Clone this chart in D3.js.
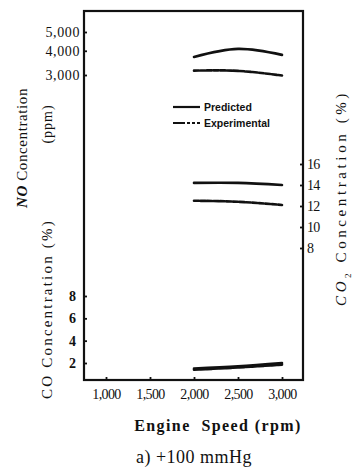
<!DOCTYPE html>
<html>
<head>
<meta charset="utf-8">
<script src="https://cdn.jsdelivr.net/npm/d3@7"></script>
<style>
  html, body { margin: 0; padding: 0; background: #fff; }
  svg { display: block; }
  text { fill: #111; }
</style>
</head>
<body>
<svg id="chart" width="352" height="472"></svg>
<script>
// Engine speed samples (rpm)
const speeds = [2000, 2500, 3000];

// NO concentration (ppm)
const noPredicted = [3720, 4090, 3810];
const noExperimental = [3160, 3150, 2980];

// CO2 concentration (%)
const co2Predicted = [14.2, 14.2, 14.0];
const co2Experimental = [12.5, 12.4, 12.1];

// CO concentration (%)
const coPredicted = [1.5, 1.7, 2.0];
const coExperimental = [1.4, 1.6, 1.85];

// Tick values
const speedTicks = [1000, 1500, 2000, 2500, 3000];
const noTicks = [3000, 4000, 5000];
const coTicks = [2, 4, 6, 8];
const co2Ticks = [8, 10, 12, 14, 16];

const svg = d3.select("#chart");
const frame = { left: 84, top: 11, right: 303, bottom: 380 };

const x = d3.scaleLinear().domain([1000, 3000]).range([106, 282]);
const yNO = d3.scaleLog().domain([3000, 5000]).range([75, 32]);
const yCO = d3.scaleLinear().domain([2, 8]).range([363, 296]);
const yCO2 = d3.scaleLinear().domain([8, 16]).range([248, 164]);

const serif = "Liberation Serif";
const comma = d3.format(",");
const whole = d3.format("d");

// Plot frame
svg.append("rect")
  .attr("x", frame.left).attr("y", frame.top)
  .attr("width", frame.right - frame.left)
  .attr("height", frame.bottom - frame.top)
  .attr("fill", "none").attr("stroke", "#111").attr("stroke-width", 2.2);

function styleAxis(g, size, weight, spacing) {
  g.attr("font-family", serif).attr("font-size", size);
  g.select(".domain").remove();
  g.selectAll(".tick line").attr("stroke", "#111").attr("stroke-width", 1.8);
  g.selectAll(".tick text")
    .attr("font-family", serif)
    .attr("font-size", size)
    .attr("font-weight", weight)
    .attr("letter-spacing", spacing)
    .attr("fill", "#111");
}

// Bottom axis: engine speed
svg.append("g")
  .attr("transform", `translate(0,${frame.bottom})`)
  .call(d3.axisBottom(x).tickValues(speedTicks).tickFormat(comma).tickSize(-3).tickPadding(9))
  .call(g => styleAxis(g, 14, "normal", -0.6));

// Left axis: NO (upper part)
svg.append("g")
  .attr("transform", `translate(${frame.left},0)`)
  .call(d3.axisLeft(yNO).tickValues(noTicks).tickFormat(comma).tickSize(-3).tickPadding(4))
  .call(g => styleAxis(g, 14, "normal", 0.6));

// Left axis: CO (lower part)
svg.append("g")
  .attr("transform", `translate(${frame.left},0)`)
  .call(d3.axisLeft(yCO).tickValues(coTicks).tickFormat(whole).tickSize(-3).tickPadding(8))
  .call(g => styleAxis(g, 14, "bold", 0));

// Right axis: CO2
svg.append("g")
  .attr("transform", `translate(${frame.right},0)`)
  .call(d3.axisRight(yCO2).tickValues(co2Ticks).tickFormat(whole).tickSize(-3).tickPadding(4))
  .call(g => styleAxis(g, 14, "normal", -0.8));

// Data lines
function drawLine(values, yScale, dashed) {
  const pts = speeds.map((s, i) => [x(s), yScale(values[i])]);
  svg.append("path")
    .attr("d", d3.line().curve(d3.curveNatural)(pts))
    .attr("fill", "none")
    .attr("stroke", "#111")
    .attr("stroke-width", 2.6)
    .attr("stroke-linecap", "round")
    .attr("stroke-dasharray", dashed ? "5,1.5" : null);
}

drawLine(noPredicted, yNO, false);
drawLine(noExperimental, yNO, true);
drawLine(co2Predicted, yCO2, false);
drawLine(co2Experimental, yCO2, true);
drawLine(coPredicted, yCO, false);
drawLine(coExperimental, yCO, true);

// Legend
const legend = [
  { label: "Predicted", dashed: false, y: 107 },
  { label: "Experimental", dashed: true, y: 123 }
];
legend.forEach(d => {
  svg.append("line")
    .attr("x1", 173).attr("x2", 200).attr("y1", d.y).attr("y2", d.y)
    .attr("stroke", "#111").attr("stroke-width", 2.2)
    .attr("stroke-dasharray", d.dashed ? "12,2,3,2,3,2" : null);
  svg.append("text")
    .attr("x", 204).attr("y", d.y).attr("dy", "0.35em")
    .attr("font-family", "Liberation Sans")
    .attr("font-size", 10.5).attr("font-weight", "bold")
    .text(d.label);
});

// Axis titles
function vText(cx, cy, size, spacing, weight) {
  return svg.append("text")
    .attr("transform", `translate(${cx},${cy}) rotate(-90)`)
    .attr("text-anchor", "middle").attr("dy", "0.35em")
    .attr("font-family", serif)
    .attr("font-size", size)
    .attr("letter-spacing", spacing)
    .attr("font-weight", weight || "normal");
}

const noTitle = vText(22, 148, 15, 0.6);
noTitle.append("tspan").attr("font-style", "italic").attr("font-weight", "bold").text("NO");
noTitle.append("tspan").text(" Concentration");

vText(47, 124, 14, 1).text("(ppm)");

vText(47, 309, 15, 2.2).text("CO Concentration (%)");

const co2Title = vText(341, 198, 15, 3.6);
co2Title.append("tspan").attr("font-style", "italic").text("CO");
co2Title.append("tspan").attr("baseline-shift", "sub").attr("font-size", 9).text("2");
co2Title.append("tspan").text(" Concentration (%)");

svg.append("text")
  .attr("x", 218).attr("y", 425).attr("dy", "0.35em")
  .attr("text-anchor", "middle")
  .attr("font-family", serif).attr("font-size", 16)
  .attr("font-weight", "bold").attr("letter-spacing", 1.4)
  .text("Engine\u00a0\u00a0Speed (rpm)");

svg.append("text")
  .attr("x", 194).attr("y", 457).attr("dy", "0.35em")
  .attr("text-anchor", "middle")
  .attr("font-family", serif).attr("font-size", 18)
  .attr("letter-spacing", 0.5)
  .text("a) +100 mmHg");
</script>
</body>
</html>
